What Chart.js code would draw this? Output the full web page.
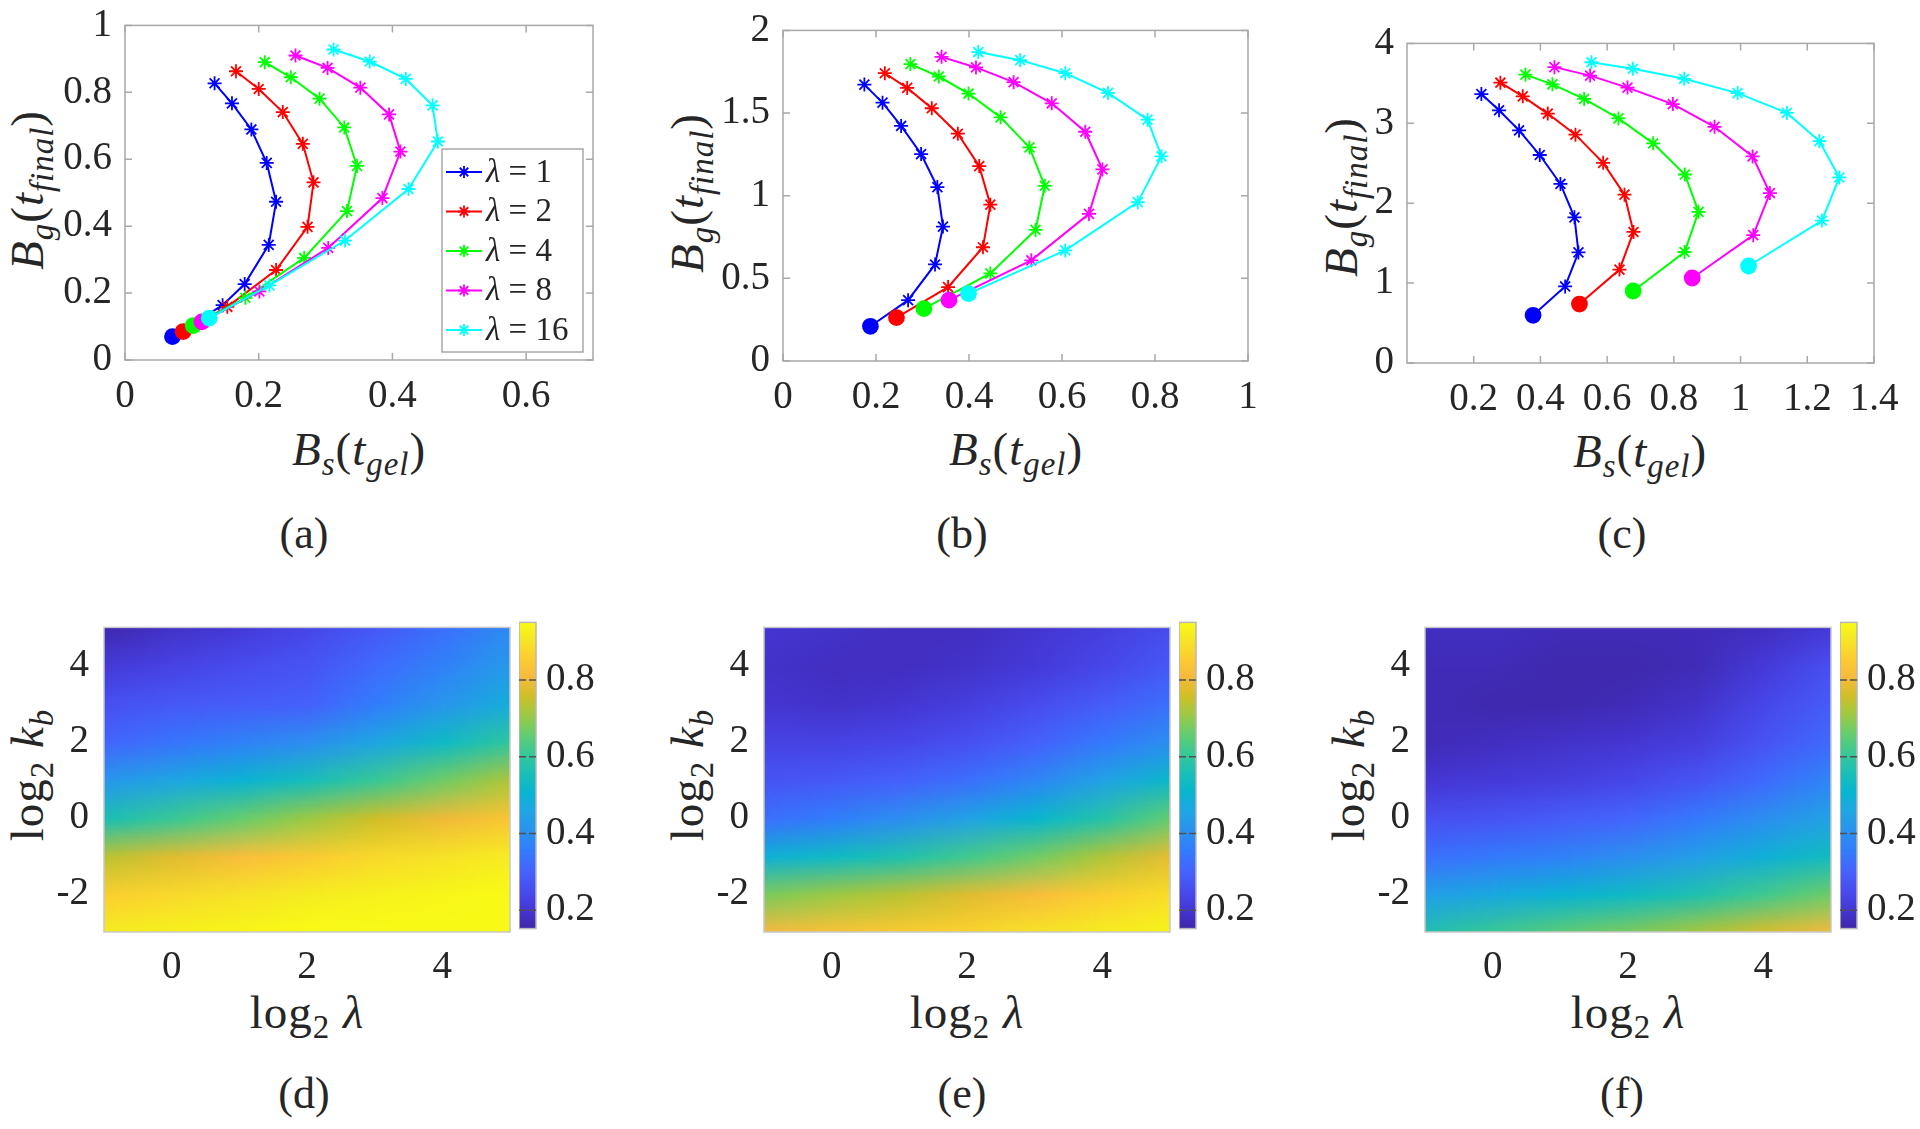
<!DOCTYPE html>
<html>
<head>
<meta charset="utf-8">
<script src="https://cdn.jsdelivr.net/npm/chart.js@4.4.1/dist/chart.umd.min.js"></script>
<style>
  body { margin: 0; background: #fff; width: 1920px; height: 1129px; position: relative; overflow: hidden;
         font-family: 'Liberation Serif', 'Times New Roman', serif; color: #262626; }
  canvas { position: absolute; }
  .lbl { position: absolute; white-space: nowrap; transform: translate(-50%, -50%); font-size: 47px;
         letter-spacing: 1px; line-height: 1; }
  .rot { transform: translate(-50%, -50%) rotate(-90deg); }
  .cap { position: absolute; transform: translate(-50%, -50%); font-size: 44px; }
  i { font-style: italic; }
  sub { font-size: 0.7em; vertical-align: -0.32em; line-height: 0; }
</style>
</head>
<body>

<!-- axis titles and captions -->
<div class="lbl" style="left:359px;top:449px"><i>B</i><sub><i>s</i></sub>(<i>t</i><sub><i>gel</i></sub>)</div>
<div class="lbl" style="left:1016px;top:449px"><i>B</i><sub><i>s</i></sub>(<i>t</i><sub><i>gel</i></sub>)</div>
<div class="lbl" style="left:1640px;top:451px"><i>B</i><sub><i>s</i></sub>(<i>t</i><sub><i>gel</i></sub>)</div>
<div class="lbl rot" style="left:27px;top:190px"><i>B</i><sub><i>g</i></sub>(<i>t</i><sub><i>final</i></sub>)</div>
<div class="lbl rot" style="left:687px;top:193px"><i>B</i><sub><i>g</i></sub>(<i>t</i><sub><i>final</i></sub>)</div>
<div class="lbl rot" style="left:1341px;top:197px"><i>B</i><sub><i>g</i></sub>(<i>t</i><sub><i>final</i></sub>)</div>
<div class="cap" style="left:304px;top:533px">(a)</div>
<div class="cap" style="left:962px;top:533px">(b)</div>
<div class="cap" style="left:1622px;top:533px">(c)</div>

<div class="lbl" style="left:307px;top:1012px">log<sub>2</sub> <i>λ</i></div>
<div class="lbl" style="left:967px;top:1012px">log<sub>2</sub> <i>λ</i></div>
<div class="lbl" style="left:1628px;top:1012px">log<sub>2</sub> <i>λ</i></div>
<div class="lbl rot" style="left:27px;top:775px">log<sub>2</sub> <i>k</i><sub><i>b</i></sub></div>
<div class="lbl rot" style="left:687px;top:775px">log<sub>2</sub> <i>k</i><sub><i>b</i></sub></div>
<div class="lbl rot" style="left:1348px;top:775px">log<sub>2</sub> <i>k</i><sub><i>b</i></sub></div>
<div class="cap" style="left:304px;top:1093px">(d)</div>
<div class="cap" style="left:962px;top:1093px">(e)</div>
<div class="cap" style="left:1622px;top:1093px">(f)</div>

<script>
// ---------- data ----------
const lambdas = [1, 2, 4, 8, 16];
const lineColors = ['#0000ff', '#ff0000', '#00ff00', '#ff00ff', '#00ffff'];

// (a)  one row per lambda, first point is the circle
const aBs = [
  [0.071, 0.146, 0.179, 0.215, 0.226, 0.212, 0.189, 0.160, 0.134],
  [0.087, 0.153, 0.226, 0.273, 0.282, 0.266, 0.236, 0.200, 0.166],
  [0.102, 0.180, 0.268, 0.332, 0.347, 0.328, 0.291, 0.248, 0.209],
  [0.115, 0.201, 0.304, 0.385, 0.412, 0.395, 0.352, 0.303, 0.255],
  [0.126, 0.216, 0.329, 0.424, 0.468, 0.460, 0.420, 0.366, 0.312]
];
const aBg = [
  [0.070, 0.164, 0.227, 0.344, 0.473, 0.589, 0.689, 0.767, 0.827],
  [0.085, 0.159, 0.269, 0.398, 0.531, 0.646, 0.741, 0.810, 0.863],
  [0.103, 0.186, 0.305, 0.445, 0.580, 0.695, 0.781, 0.845, 0.890],
  [0.114, 0.205, 0.335, 0.484, 0.623, 0.734, 0.814, 0.873, 0.910],
  [0.125, 0.223, 0.357, 0.511, 0.653, 0.761, 0.840, 0.892, 0.928]
];
// (b)
const bBs = [
  [0.188, 0.269, 0.327, 0.344, 0.332, 0.297, 0.254, 0.214, 0.175],
  [0.244, 0.355, 0.430, 0.446, 0.422, 0.376, 0.320, 0.267, 0.219],
  [0.303, 0.446, 0.543, 0.563, 0.530, 0.468, 0.399, 0.335, 0.274],
  [0.357, 0.534, 0.658, 0.687, 0.650, 0.578, 0.496, 0.415, 0.341],
  [0.399, 0.607, 0.763, 0.814, 0.784, 0.699, 0.607, 0.510, 0.420]
];
const bBg = [
  [0.210, 0.368, 0.584, 0.813, 1.052, 1.252, 1.422, 1.563, 1.672],
  [0.263, 0.447, 0.688, 0.946, 1.179, 1.375, 1.529, 1.652, 1.741],
  [0.317, 0.530, 0.793, 1.060, 1.292, 1.474, 1.618, 1.721, 1.796],
  [0.368, 0.609, 0.890, 1.159, 1.387, 1.559, 1.687, 1.776, 1.840],
  [0.408, 0.669, 0.961, 1.238, 1.460, 1.622, 1.741, 1.820, 1.869]
];
// (c)
const cBs = [
  [0.378, 0.474, 0.514, 0.502, 0.460, 0.398, 0.336, 0.276, 0.223],
  [0.517, 0.637, 0.679, 0.652, 0.588, 0.505, 0.422, 0.347, 0.280],
  [0.678, 0.832, 0.874, 0.833, 0.738, 0.634, 0.531, 0.436, 0.355],
  [0.855, 1.038, 1.088, 1.036, 0.922, 0.797, 0.661, 0.549, 0.442],
  [1.024, 1.244, 1.296, 1.236, 1.139, 0.991, 0.831, 0.677, 0.553]
];
const cBg = [
  [0.597, 0.958, 1.384, 1.823, 2.241, 2.603, 2.911, 3.163, 3.366],
  [0.738, 1.169, 1.640, 2.107, 2.505, 2.858, 3.122, 3.337, 3.508],
  [0.901, 1.389, 1.892, 2.359, 2.749, 3.061, 3.305, 3.488, 3.609],
  [1.064, 1.600, 2.127, 2.586, 2.956, 3.240, 3.447, 3.597, 3.703],
  [1.214, 1.782, 2.322, 2.777, 3.130, 3.378, 3.557, 3.683, 3.764]
];

const aXTicks = [0, 0.2, 0.4, 0.6];
const aYTicks = [0, 0.2, 0.4, 0.6, 0.8, 1];
const bXTicks = [0, 0.2, 0.4, 0.6, 0.8, 1];
const bYTicks = [0, 0.5, 1, 1.5, 2];
const cXTicks = [0.2, 0.4, 0.6, 0.8, 1, 1.2, 1.4];
const cYTicks = [0, 1, 2, 3, 4];

// heat maps: columns = log2 lambda, rows = log2 kb (top row first)
const logLam = [-1, 0, 1, 2, 3, 4, 5];
const logKb = [5, 4, 3, 2, 1, 0, -1, -2, -3];
const dMap = [
  [0.16, 0.19, 0.21, 0.24, 0.28, 0.33, 0.39],
  [0.21, 0.23, 0.25, 0.27, 0.32, 0.37, 0.43],
  [0.26, 0.28, 0.29, 0.30, 0.36, 0.42, 0.48],
  [0.31, 0.34, 0.37, 0.40, 0.46, 0.53, 0.60],
  [0.42, 0.46, 0.50, 0.55, 0.61, 0.67, 0.73],
  [0.56, 0.61, 0.66, 0.71, 0.76, 0.80, 0.84],
  [0.74, 0.78, 0.82, 0.85, 0.88, 0.90, 0.92],
  [0.86, 0.88, 0.90, 0.92, 0.93, 0.94, 0.95],
  [0.92, 0.93, 0.94, 0.95, 0.95, 0.95, 0.95]
];
const eMap = [
  [0.20, 0.19, 0.18, 0.18, 0.20, 0.22, 0.25],
  [0.19, 0.18, 0.18, 0.19, 0.21, 0.24, 0.28],
  [0.20, 0.19, 0.20, 0.22, 0.25, 0.29, 0.33],
  [0.23, 0.23, 0.24, 0.26, 0.30, 0.35, 0.40],
  [0.27, 0.28, 0.30, 0.33, 0.38, 0.45, 0.52],
  [0.33, 0.36, 0.40, 0.45, 0.51, 0.58, 0.66],
  [0.49, 0.53, 0.57, 0.62, 0.67, 0.73, 0.79],
  [0.68, 0.71, 0.74, 0.78, 0.82, 0.86, 0.89],
  [0.81, 0.83, 0.85, 0.87, 0.90, 0.92, 0.94]
];
const fMap = [
  [0.18, 0.18, 0.17, 0.17, 0.17, 0.18, 0.21],
  [0.17, 0.17, 0.16, 0.16, 0.17, 0.21, 0.26],
  [0.17, 0.16, 0.16, 0.17, 0.19, 0.24, 0.29],
  [0.17, 0.18, 0.19, 0.20, 0.22, 0.27, 0.32],
  [0.20, 0.21, 0.22, 0.24, 0.27, 0.32, 0.38],
  [0.26, 0.27, 0.29, 0.31, 0.35, 0.40, 0.45],
  [0.33, 0.35, 0.37, 0.40, 0.44, 0.49, 0.54],
  [0.44, 0.47, 0.50, 0.53, 0.57, 0.62, 0.67],
  [0.57, 0.61, 0.65, 0.68, 0.72, 0.77, 0.81]
];
const heatXTicks = [0, 2, 4];
const heatYTicks = [-2, 0, 2, 4];
const cbTicks = [0.2, 0.4, 0.6, 0.8];
const cbMin = 0.152, cbMax = 0.950;

// ---------- helpers ----------
const SERIF = "'Liberation Serif', 'Times New Roman', serif";
Chart.defaults.font.family = SERIF;
Chart.defaults.font.size = 39;
Chart.defaults.color = '#262626';
Chart.defaults.animation = false;

// parula (MATLAB) sampled every 4th of 64 entries
const PARULA = [[62,38,168],[69,55,213],[72,77,240],[69,99,253],[50,124,252],[43,145,239],
  [32,165,227],[8,181,208],[25,191,182],[55,200,151],[100,205,111],[157,201,67],
  [209,191,39],[248,186,61],[252,207,48],[245,233,36],[249,251,21]];
const PARULA_POS = [0,4,8,12,16,20,24,28,32,36,40,44,48,52,56,60,63].map(i => i / 63);
function parula(t) {
  t = Math.min(1, Math.max(0, t));
  let k = 1;
  while (k < PARULA_POS.length - 1 && PARULA_POS[k] < t) k++;
  const p0 = PARULA_POS[k - 1], p1 = PARULA_POS[k];
  const f = (t - p0) / (p1 - p0);
  return PARULA[k - 1].map((c, j) => Math.round(c + (PARULA[k][j] - c) * f));
}

function addCanvas(left, top, w, h) {
  const c = document.createElement('canvas');
  c.width = w; c.height = h;
  c.style.left = left + 'px'; c.style.top = top + 'px';
  c.style.width = w + 'px'; c.style.height = h + 'px';
  document.body.appendChild(c);
  return c;
}

// grey box with inward tick marks, like MATLAB axes
const boxPlugin = {
  id: 'box',
  afterDraw(chart, args, opts) {
    const { ctx, chartArea: a } = chart;
    ctx.save();
    ctx.strokeStyle = opts.color || '#a8a8a8';
    ctx.lineWidth = 1.5;
    ctx.strokeRect(a.left, a.top, a.width, a.height);
    if (opts.ticks !== false) {
      const L = 7;
      ctx.strokeStyle = opts.tickColor || opts.color || '#a8a8a8';
      ctx.beginPath();
      const x = chart.scales.x, y = chart.scales.y;
      if (x && x.options.display) x.ticks.forEach(t => {
        const px = x.getPixelForValue(t.value);
        ctx.moveTo(px, a.bottom); ctx.lineTo(px, a.bottom - L);
        ctx.moveTo(px, a.top); ctx.lineTo(px, a.top + L);
      });
      if (y) y.ticks.forEach(t => {
        const py = y.getPixelForValue(t.value);
        ctx.moveTo(a.left, py); ctx.lineTo(a.left + L, py);
        ctx.moveTo(a.right, py); ctx.lineTo(a.right - L, py);
      });
      ctx.stroke();
    }
    ctx.restore();
  }
};

// legend box inside panel (a)
const legendPlugin = {
  id: 'lamLegend',
  afterDraw(chart) {
    const { ctx, chartArea: a } = chart;
    const w = 141, h = 203;
    const left = a.right - 10 - w, top = a.bottom - 8 - h;
    ctx.save();
    ctx.fillStyle = '#fff';
    ctx.fillRect(left, top, w, h);
    ctx.strokeStyle = '#a8a8a8';
    ctx.lineWidth = 1.5;
    ctx.strokeRect(left, top, w, h);
    lambdas.forEach((lam, k) => {
      const yy = top + 23 + k * 39.5;
      ctx.strokeStyle = lineColors[k];
      ctx.lineWidth = 2;
      ctx.beginPath(); ctx.moveTo(left + 4, yy); ctx.lineTo(left + 40, yy); ctx.stroke();
      ctx.lineWidth = 1.8;
      ctx.beginPath();
      const r = 6, cx = left + 22;
      for (let q = 0; q < 4; q++) {
        const ang = q * Math.PI / 4;
        ctx.moveTo(cx - r * Math.cos(ang), yy - r * Math.sin(ang));
        ctx.lineTo(cx + r * Math.cos(ang), yy + r * Math.sin(ang));
      }
      ctx.stroke();
      ctx.fillStyle = '#262626';
      ctx.textBaseline = 'middle';
      ctx.font = 'italic 33px ' + SERIF;
      ctx.fillText('λ', left + 44, yy + 1);
      const lw = ctx.measureText('λ').width;
      ctx.font = '33px ' + SERIF;
      ctx.fillText(' = ' + lam, left + 44 + lw, yy + 1);
    });
    ctx.restore();
  }
};

function fixedTicks(list) {
  return s => { s.ticks = list.map(v => ({ value: v })); };
}

function linePanel(box, xs, ys, xMin, xMax, yMin, yMax, xTicks, yTicks, extra) {
  const padL = 110, padR = 40, padT = 30, padB = 70;
  const W = box.r - box.l + padL + padR, H = box.b - box.t + padT + padB;
  const cv = addCanvas(box.l - padL, box.t - padT, W, H);
  const datasets = lambdas.map((lam, k) => ({
    label: 'λ = ' + lam,
    data: xs[k].map((v, j) => ({ x: v, y: ys[k][j] })),
    showLine: true,
    borderColor: lineColors[k],
    backgroundColor: lineColors[k],
    borderWidth: 2,
    tension: 0,
    order: lambdas.length - 1 - k,
    pointStyle: c => c.dataIndex === 0 ? 'circle' : 'star',
    pointRadius: c => c.dataIndex === 0 ? 7.5 : 7,
    pointBorderWidth: 1.8,
    pointBackgroundColor: lineColors[k],
    pointBorderColor: lineColors[k]
  }));
  new Chart(cv, {
    type: 'scatter',
    data: { datasets },
    options: {
      responsive: false,
      layout: { padding: { top: padT, right: padR, left: 0, bottom: 0 } },
      plugins: { legend: { display: false }, tooltip: { enabled: false }, box: {} },
      scales: {
        x: {
          type: 'linear', min: xMin, max: xMax,
          grid: { display: false, drawTicks: false }, border: { display: false },
          afterBuildTicks: fixedTicks(xTicks),
          afterFit: s => { s.height = padB; },
          ticks: { padding: 13, maxRotation: 0, autoSkip: false, callback: v => String(v) }
        },
        y: {
          type: 'linear', min: yMin, max: yMax,
          grid: { display: false, drawTicks: false }, border: { display: false },
          afterBuildTicks: fixedTicks(yTicks),
          afterFit: s => { s.width = padL; },
          ticks: { padding: 13, autoSkip: false, callback: v => String(v) }
        }
      }
    },
    plugins: extra ? [boxPlugin, extra] : [boxPlugin]
  });
}

// heat map drawn as a small image scaled onto the axes
const heatPlugin = {
  id: 'heat',
  beforeDatasetsDraw(chart, args, opts) {
    const { ctx, chartArea: a, scales: { x, y } } = chart;
    const grid = opts.grid;
    const rows = grid.length, cols = grid[0].length;
    const off = document.createElement('canvas');
    off.width = cols; off.height = rows;
    const octx = off.getContext('2d');
    const img = octx.createImageData(cols, rows);
    grid.forEach((row, r) => row.forEach((v, c) => {
      const col = parula((v - cbMin) / (cbMax - cbMin));
      const p = (r * cols + c) * 4;
      img.data[p] = col[0]; img.data[p + 1] = col[1]; img.data[p + 2] = col[2]; img.data[p + 3] = 255;
    }));
    octx.putImageData(img, 0, 0);
    const dx = (opts.xs[1] - opts.xs[0]) / 2, dy = (opts.ys[0] - opts.ys[1]) / 2;
    const x0 = x.getPixelForValue(opts.xs[0] - dx), x1 = x.getPixelForValue(opts.xs[cols - 1] + dx);
    const y0 = y.getPixelForValue(opts.ys[0] + dy), y1 = y.getPixelForValue(opts.ys[rows - 1] - dy);
    ctx.save();
    ctx.beginPath(); ctx.rect(a.left, a.top, a.width, a.height); ctx.clip();
    ctx.imageSmoothingEnabled = true;
    ctx.drawImage(off, x0, y0, x1 - x0, y1 - y0);
    ctx.restore();
  }
};

const cbPlugin = {
  id: 'cbar',
  beforeDatasetsDraw(chart) {
    const { ctx, chartArea: a, scales: { y } } = chart;
    for (let py = Math.floor(a.top); py < a.bottom; py++) {
      const v = y.getValueForPixel(py + 0.5);
      const c = parula((v - cbMin) / (cbMax - cbMin));
      ctx.fillStyle = `rgb(${c[0]},${c[1]},${c[2]})`;
      ctx.fillRect(a.left, py, a.width, 1);
    }
  }
};

function heatPanel(box, cb, grid) {
  const padL = 110, padR = 30, padT = 30, padB = 60;
  const W = box.r - box.l + padL + padR, H = box.b - box.t + padT + padB;
  const cv = addCanvas(box.l - padL, box.t - padT, W, H);
  new Chart(cv, {
    type: 'scatter',
    data: { datasets: [] },
    options: {
      responsive: false,
      layout: { padding: { top: padT, right: padR, left: 0, bottom: 0 } },
      plugins: { legend: { display: false }, tooltip: { enabled: false },
                 box: { ticks: false, color: '#c8c8c8' },
                 heat: { grid, xs: logLam, ys: logKb } },
      scales: {
        x: {
          type: 'linear', min: -1, max: 5,
          grid: { display: false, drawTicks: false }, border: { display: false },
          afterBuildTicks: fixedTicks(heatXTicks),
          afterFit: s => { s.height = padB; },
          ticks: { padding: 12, maxRotation: 0, callback: v => String(v) }
        },
        y: {
          type: 'linear', min: -3, max: 5,
          grid: { display: false, drawTicks: false }, border: { display: false },
          afterBuildTicks: fixedTicks(heatYTicks),
          afterFit: s => { s.width = padL; },
          ticks: { padding: 15, callback: v => String(v) }
        }
      }
    },
    plugins: [heatPlugin, boxPlugin]
  });

  // colour bar
  const cpadR = 90;
  const cw = cb.r - cb.l + cpadR, ch = box.b - box.t + padT + 30;
  const cc = addCanvas(cb.l, box.t - padT, cw, ch);
  new Chart(cc, {
    type: 'scatter',
    data: { datasets: [] },
    options: {
      responsive: false,
      layout: { padding: { top: padT, right: 0, left: 0, bottom: 30 } },
      plugins: { legend: { display: false }, tooltip: { enabled: false },
                 box: { color: '#b8b8b8', tickColor: '#505050' } },
      scales: {
        x: { type: 'linear', display: false, min: 0, max: 1 },
        y: {
          type: 'linear', position: 'right', min: cbMin, max: cbMax,
          grid: { display: false, drawTicks: false }, border: { display: false },
          afterBuildTicks: fixedTicks(cbTicks),
          afterFit: s => { s.width = cpadR; },
          ticks: { padding: 10, callback: v => String(v) }
        }
      }
    },
    plugins: [cbPlugin, boxPlugin]
  });
}

// ---------- panels ----------
linePanel({ l: 125, t: 19, r: 593, b: 360 }, aBs, aBg, 0, 0.7, 0, 1, aXTicks, aYTicks, legendPlugin);
linePanel({ l: 783, t: 24, r: 1248, b: 361 }, bBs, bBg, 0, 1, 0, 2, bXTicks, bYTicks);
linePanel({ l: 1407, t: 37, r: 1874, b: 363 }, cBs, cBg, 0, 1.4, 0, 4, cXTicks, cYTicks);

heatPanel({ l: 104, t: 619, r: 510, b: 932 }, { l: 519, r: 536 }, dMap);
heatPanel({ l: 764, t: 619, r: 1170, b: 932 }, { l: 1179, r: 1196 }, eMap);
heatPanel({ l: 1425, t: 619, r: 1831, b: 932 }, { l: 1840, r: 1857 }, fMap);
</script>
</body>
</html>
